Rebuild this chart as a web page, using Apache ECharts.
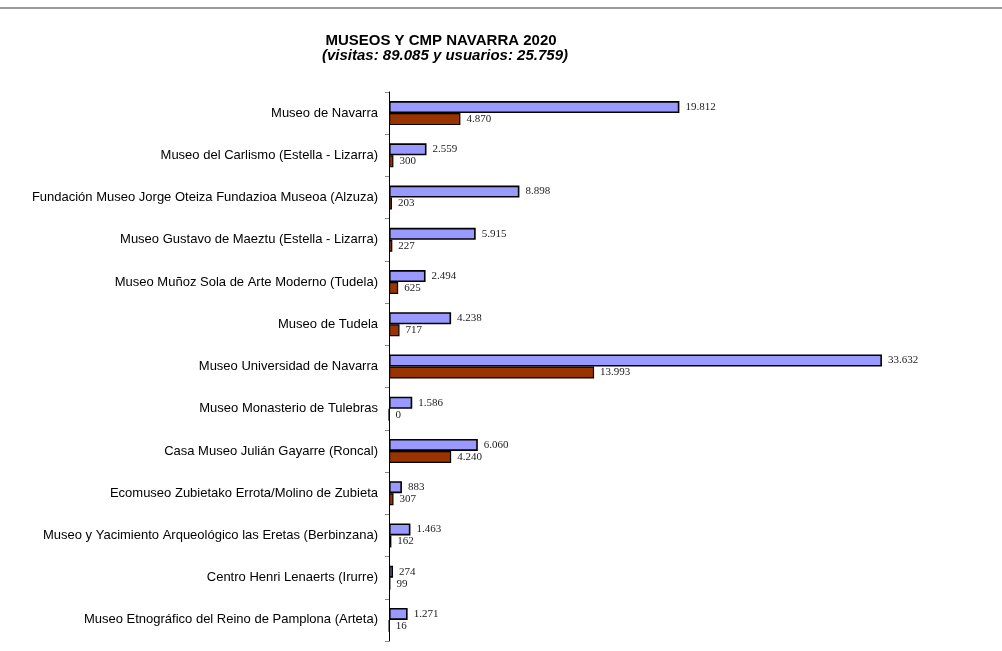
<!DOCTYPE html>
<html>
<head>
<meta charset="utf-8">
<script src="https://cdn.jsdelivr.net/npm/echarts@6/dist/echarts.min.js"></script>
<style>
  html, body { margin: 0; padding: 0; background: #fff; }
  #chart { width: 1002px; height: 651px; }
</style>
</head>
<body>
<div id="chart"></div>
<script>
  const museos = [
    'Museo de Navarra',
    'Museo del Carlismo (Estella - Lizarra)',
    'Fundación Museo Jorge Oteiza Fundazioa Museoa (Alzuza)',
    'Museo Gustavo de Maeztu (Estella - Lizarra)',
    'Museo Muñoz Sola de Arte Moderno (Tudela)',
    'Museo de Tudela',
    'Museo Universidad de Navarra',
    'Museo Monasterio de Tulebras',
    'Casa Museo Julián Gayarre (Roncal)',
    'Ecomuseo Zubietako Errota/Molino de Zubieta',
    'Museo y Yacimiento Arqueológico las Eretas (Berbinzana)',
    'Centro Henri Lenaerts (Irurre)',
    'Museo Etnográfico del Reino de Pamplona (Arteta)'
  ];
  const visitas = [19812, 2559, 8898, 5915, 2494, 4238, 33632, 1586, 6060, 883, 1463, 274, 1271];
  const usuarios = [4870, 300, 203, 227, 625, 717, 13993, 0, 4240, 307, 162, 99, 16];

  // separador de miles con punto
  const fmt = (v) => String(v).replace(/\B(?=(\d{3})+(?!\d))/g, '.');

  const myChart = echarts.init(document.getElementById('chart'));

  const valueLabel = {
    show: true,
    position: 'right',
    distance: 6,
    fontFamily: 'Liberation Serif',
    fontSize: 11,
    color: '#222',
    formatter: (p) => fmt(p.value)
  };

  const option = {
    animation: false,
    backgroundColor: '#fff',
    title: [
      {
        text: 'MUSEOS Y CMP NAVARRA 2020',
        left: 436,
        top: 28,
        textAlign: 'center',
        textStyle: { fontFamily: 'Liberation Sans', fontSize: 15, fontWeight: 'bold', color: '#000' }
      },
      {
        text: '(visitas: 89.085 y usuarios: 25.759)',
        left: 440,
        top: 43,
        textAlign: 'center',
        textStyle: { fontFamily: 'Liberation Sans', fontSize: 15, fontWeight: 'bold', fontStyle: 'italic', color: '#000' }
      }
    ],
    graphic: [
      {
        type: 'line',
        shape: { x1: 0, y1: 8, x2: 1002, y2: 8 },
        style: { stroke: '#777', lineWidth: 1.5 }
      }
    ],
    grid: { left: 389, right: 100, top: 92, bottom: 10 },
    xAxis: {
      type: 'value',
      min: 0,
      max: 35000,
      show: false
    },
    yAxis: {
      type: 'category',
      data: museos,
      inverse: true,
      axisLine: { lineStyle: { color: '#000', width: 1 } },
      axisTick: { show: true, length: 4, lineStyle: { color: '#888' } },
      axisLabel: {
        fontFamily: 'Liberation Sans',
        fontSize: 13,
        color: '#000',
        margin: 11
      }
    },
    series: [
      {
        name: 'visitas',
        type: 'bar',
        data: visitas,
        barWidth: 12,
        barGap: 0,
        itemStyle: { color: '#9999ff', borderColor: '#000', borderWidth: 1.6 },
        label: valueLabel
      },
      {
        name: 'usuarios',
        type: 'bar',
        data: usuarios,
        barWidth: 12,
        barGap: 0,
        itemStyle: { color: '#993300', borderColor: '#000', borderWidth: 1.2 },
        label: valueLabel
      }
    ]
  };

  myChart.setOption(option);
</script>
</body>
</html>
